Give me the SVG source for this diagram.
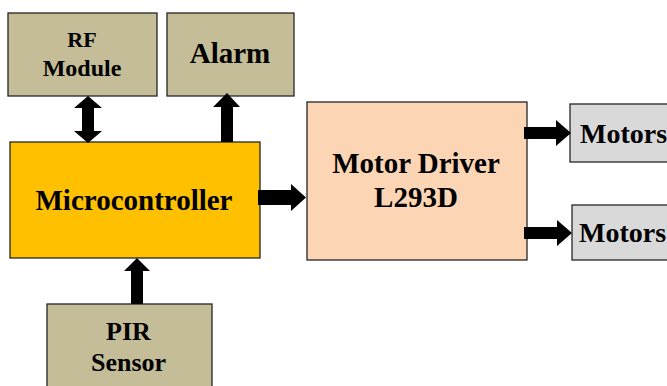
<svg xmlns="http://www.w3.org/2000/svg" width="667" height="386" viewBox="0 0 667 386">
<style>
.box{stroke:#262626;stroke-width:1.3}
.tan{fill:#C4BD97}
text{font-family:'Liberation Serif','Times New Roman',serif;font-weight:bold;fill:#000;text-anchor:middle}
.arr{fill:#000}
</style>
<rect width="667" height="386" fill="#fff"/>
<g id="rf"><rect class="box tan" x="8" y="13" width="149" height="83"/><text x="82" y="47" font-size="22">RF</text><text x="82" y="76" font-size="24">Module</text></g>
<g id="alarm"><rect class="box tan" x="167" y="13" width="127" height="83"/><text x="230" y="63" font-size="29">Alarm</text></g>
<g id="micro"><rect class="box" fill="#FFC000" x="10" y="142" width="250" height="116"/><text x="134" y="210" font-size="29">Microcontroller</text></g>
<g id="pir"><rect class="box tan" x="47" y="304" width="165" height="90"/><text x="128.5" y="340" font-size="26">PIR</text><text x="128.5" y="371" font-size="26">Sensor</text></g>
<g id="driver"><rect class="box" fill="#FCD5B5" x="307" y="102" width="220" height="158"/><text x="416" y="173" font-size="29">Motor Driver</text><text x="416" y="207" font-size="29">L293D</text></g>
<g id="m1"><rect class="box" fill="#D9D9D9" x="570" y="104" width="110" height="58"/><text x="580" y="143" font-size="28" style="text-anchor:start">Motors</text></g>
<g id="m2"><rect class="box" fill="#D9D9D9" x="572" y="205" width="110" height="55"/><text x="579" y="242" font-size="28" style="text-anchor:start">Motors</text></g>
<g id="connectors" class="arr">
<polygon points="88,96 102,108 94,108 94,131 102,131 88,143 74,131 82,131 82,108 74,108"/>
<polygon points="227,93 240,107 233,107 233,142 221,142 221,107 213,107"/>
<polygon points="137,258 150,271 143,271 143,304 131,304 131,271 124,271"/>
<polygon points="258,190 291,190 291,184 306,197.5 291,211 291,205 258,205"/>
<polygon points="524,127 556,127 556,120 571,133 556,146 556,139 524,139"/>
<polygon points="524,227 557,227 557,220 572,233 557,246 557,239 524,239"/>
</g>
</svg>
